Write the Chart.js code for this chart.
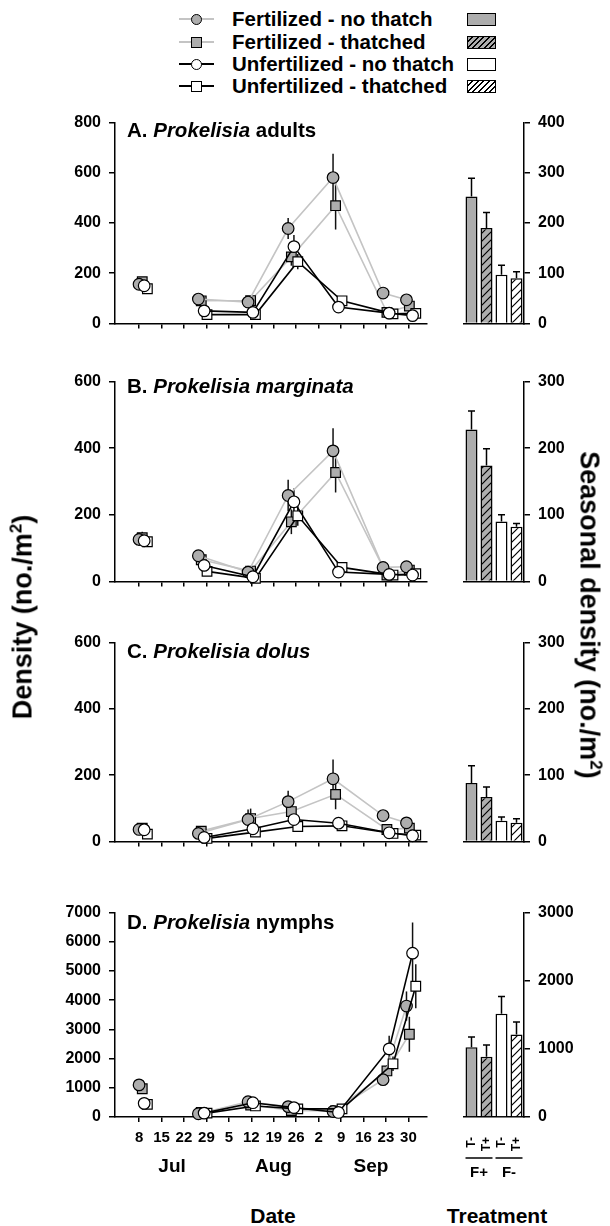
<!DOCTYPE html>
<html>
<head>
<meta charset="utf-8">
<script src="https://cdn.jsdelivr.net/npm/chart.js@4.4.0/dist/chart.umd.min.js"></script>
<style>
  body { margin: 0; width: 610px; height: 1226px; position: relative; overflow: hidden; background: #fff;
         font-family: 'Liberation Sans', Arial, sans-serif; font-weight: bold; color: #000; }
  .abs { position: absolute; }
  .txt { position: absolute; white-space: nowrap; line-height: 1; }
  .leg { font-size: 20.5px; }
  .ptitle { font-size: 20.5px; }
  .axt { font-size: 21px; }
  .side { font-size: 27px; }
</style>
</head>
<body>
<div id="root"></div>
<script>
// sampling dates: days after 30 Jun (8 Jul = 7), each treatment slightly offset as in the figure
const tickDays = [7, 14, 21, 28, 35, 42, 49, 56, 63, 70, 77, 84, 91];
const tickLabels = ['8', '15', '22', '29', '5', '12', '19', '26', '2', '9', '16', '23', '30'];
const monthNames = ['Jul', 'Aug', 'Sep'];
const monthDays = [17.3, 48.9, 79.3];

const dayFNT = [7, 25.5, 41, 53.5, 67.5, 83.1, 90.4];
const dayFT = [8, 26.4, 41.8, 54.5, 68.3, 84.3, 91.3];
const dayUNT = [8.6, 27.3, 42.5, 55.3, 69.2, 85, 92.3];
const dayUT = [9.6, 28.2, 43.3, 56.5, 70.3, 86.2, 93.3];

const seriesNames = ['Fertilized - no thatch', 'Fertilized - thatched', 'Unfertilized - no thatch', 'Unfertilized - thatched'];
const treatLabels = ['T-', 'T+', 'T-', 'T+'];
const fertGroups = ['F+', 'F-'];

// A. Prokelisia adults
const adultsFNT = [156, 97, 85, 378, 581, 121, 94];
const adultsFT = [166, 90, 91, 265, 469, 44, 69];
const adultsUNT = [150, 50, 44, 306, 65, 41, 31];
const adultsUT = [138, 35, 35, 246, 90, 38, 40];
const adultsErrFNT = [12, 8, 14, 42, 95, 10, 10];
const adultsErrFT = [10, 8, 12, 35, 95, 8, 10];
const adultsErrUNT = [10, 8, 8, 46, 8, 8, 8];
const adultsErrUT = [10, 5, 8, 30, 10, 5, 8];
const adultsSeason = [253, 190, 97, 90];
const adultsSeasonErr = [36, 31, 19, 13];

// B. Prokelisia marginata
const margFNT = [126, 77, 28, 258, 392, 42, 44];
const margFT = [131, 65, 31, 179, 327, 19, 34];
const margUNT = [122, 48, 14, 239, 28, 21, 19];
const margUT = [119, 30, 9, 197, 42, 19, 23];
const margErrFNT = [20, 6, 5, 47, 68, 5, 5];
const margErrFT = [18, 6, 5, 37, 60, 4, 5];
const margErrUNT = [18, 5, 4, 40, 4, 4, 4];
const margErrUT = [15, 5, 3, 30, 5, 3, 4];
const margSeason = [228, 174, 90, 82];
const margSeasonErr = [28, 25, 10, 5];

// C. Prokelisia dolus
const dolusFNT = [36, 24, 66, 120, 189, 78, 56];
const dolusFT = [40, 31, 69, 90, 142, 36, 40];
const dolusUNT = [35, 12, 38, 66, 55, 26, 17];
const dolusUT = [22, 9, 28, 45, 47, 24, 19];
const dolusErrFNT = [6, 5, 30, 33, 58, 10, 8];
const dolusErrFT = [6, 5, 30, 20, 45, 6, 6];
const dolusErrUNT = [6, 18, 8, 10, 8, 5, 4];
const dolusErrUT = [5, 4, 6, 8, 6, 4, 4];
const dolusSeason = [88, 67, 31, 28];
const dolusSeasonErr = [26, 15, 6, 6];

// D. Prokelisia nymphs
const nymphFNT = [1100, 111, 522, 356, 189, 1278, 3800];
const nymphFT = [967, 155, 411, 222, 211, 1578, 2833];
const nymphUNT = [467, 133, 489, 322, 155, 2333, 5611];
const nymphUT = [433, 133, 378, 278, 278, 1822, 4478];
const nymphErrFNT = [60, 30, 60, 50, 40, 150, 500];
const nymphErrFT = [60, 30, 50, 40, 40, 200, 600];
const nymphErrUNT = [50, 30, 60, 40, 30, 450, 1050];
const nymphErrUT = [40, 30, 50, 40, 40, 250, 750];
const nymphSeason = [1023, 883, 1516, 1211];
const nymphSeasonErr = [150, 173, 254, 183];

const FONT = "'Liberation Sans', Arial, sans-serif";
const GRAY = '#adadad';
const LINE_GRAY = '#c4c4c4';

function hatch(bg) {
  const c = document.createElement('canvas');
  c.width = c.height = 8;
  const g = c.getContext('2d');
  g.fillStyle = bg;
  g.fillRect(0, 0, 8, 8);
  g.strokeStyle = '#000';
  g.lineWidth = 1.2;
  g.beginPath();
  g.moveTo(-1, 9); g.lineTo(9, -1);
  g.moveTo(-1, 1); g.lineTo(1, -1);
  g.moveTo(7, 9); g.lineTo(9, 7);
  g.stroke();
  return g.createPattern(c, 'repeat');
}

const errorBars = {
  id: 'errorBars',
  beforeDatasetsDraw(chart) {
    if (chart.config.type !== 'line') return;
    const { ctx, scales: { y } } = chart;
    ctx.save();
    ctx.strokeStyle = '#111';
    ctx.lineWidth = 1.5;
    chart.data.datasets.forEach((ds, i) => {
      chart.getDatasetMeta(i).data.forEach((pt, j) => {
        const v = ds.data[j].y, e = ds.errors[j];
        ctx.beginPath();
        ctx.moveTo(pt.x, y.getPixelForValue(v + e));
        ctx.lineTo(pt.x, y.getPixelForValue(v - e));
        ctx.stroke();
      });
    });
    ctx.restore();
  },
  afterDatasetsDraw(chart) {
    if (chart.config.type !== 'bar') return;
    const { ctx, scales: { y } } = chart;
    ctx.save();
    ctx.strokeStyle = '#000';
    ctx.lineWidth = 1.5;
    chart.data.datasets.forEach((ds, i) => {
      chart.getDatasetMeta(i).data.forEach((bar, j) => {
        const top = y.getPixelForValue(ds.data[j] + ds.errors[j]);
        ctx.beginPath();
        ctx.moveTo(bar.x, bar.y);
        ctx.lineTo(bar.x, top);
        ctx.moveTo(bar.x - 3.5, top);
        ctx.lineTo(bar.x + 3.5, top);
        ctx.stroke();
      });
    });
    ctx.restore();
  }
};

const monthLabels = {
  id: 'monthLabels',
  afterDraw(chart) {
    const { ctx, chartArea, scales: { x } } = chart;
    ctx.save();
    ctx.font = 'bold 19px ' + FONT;
    ctx.fillStyle = '#000';
    ctx.textAlign = 'center';
    ctx.textBaseline = 'middle';
    monthNames.forEach((m, i) => ctx.fillText(m, x.getPixelForValue(monthDays[i]), chartArea.bottom + 50));
    ctx.restore();
  }
};

const fertLabels = {
  id: 'fertLabels',
  afterDraw(chart) {
    const { ctx, chartArea, scales: { x } } = chart;
    ctx.save();
    ctx.font = 'bold 15px ' + FONT;
    ctx.fillStyle = '#000';
    ctx.strokeStyle = '#000';
    ctx.lineWidth = 1.5;
    ctx.textAlign = 'center';
    ctx.textBaseline = 'middle';
    fertGroups.forEach((f, g) => {
      const x0 = x.getPixelForValue(g * 2) - 6, x1 = x.getPixelForValue(g * 2 + 1) + 6;
      ctx.beginPath();
      ctx.moveTo(x0, chartArea.bottom + 41);
      ctx.lineTo(x1, chartArea.bottom + 41);
      ctx.stroke();
      ctx.fillText(f, (x0 + x1) / 2, chartArea.bottom + 56);
    });
    ctx.restore();
  }
};

const tickFont = { family: FONT, size: 16, weight: 'bold' };
const plainNum = v => String(v);

function lineSet(label, days, vals, errs, gray, style, order) {
  const col = gray ? LINE_GRAY : '#000';
  return {
    label, order, errors: errs,
    data: days.map((d, k) => ({ x: d, y: vals[k] })),
    borderColor: col, borderWidth: 1.6,
    segment: { borderColor: c => (c.p0DataIndex === 0 ? 'rgba(0,0,0,0)' : col) },
    pointStyle: style, pointRadius: style === 'rect' ? 6.8 : 5.8,
    pointBackgroundColor: gray ? GRAY : '#fff',
    pointBorderColor: '#000', pointBorderWidth: 1.2,
    tension: 0, clip: false
  };
}

const panels = [
  { letter: 'A.', genus: 'Prokelisia', rest: ' adults', top: 117, bottom: 331, titleDy: 3, ymax: 800, ystep: 200, rmax: 400, rstep: 100,
    s: [adultsFNT, adultsFT, adultsUNT, adultsUT], e: [adultsErrFNT, adultsErrFT, adultsErrUNT, adultsErrUT],
    season: adultsSeason, seasonErr: adultsSeasonErr },
  { letter: 'B.', genus: 'Prokelisia marginata', rest: '', top: 376, bottom: 589, titleDy: 0, ymax: 600, ystep: 200, rmax: 300, rstep: 100,
    s: [margFNT, margFT, margUNT, margUT], e: [margErrFNT, margErrFT, margErrUNT, margErrUT],
    season: margSeason, seasonErr: margSeasonErr },
  { letter: 'C.', genus: 'Prokelisia dolus', rest: '', top: 637, bottom: 849, titleDy: 4, ymax: 600, ystep: 200, rmax: 300, rstep: 100,
    s: [dolusFNT, dolusFT, dolusUNT, dolusUT], e: [dolusErrFNT, dolusErrFT, dolusErrUNT, dolusErrUT],
    season: dolusSeason, seasonErr: dolusSeasonErr },
  { letter: 'D.', genus: 'Prokelisia', rest: ' nymphs', top: 907, bottom: 1117, titleDy: 5, ymax: 7000, ystep: 1000, rmax: 3000, rstep: 1000,
    s: [nymphFNT, nymphFT, nymphUNT, nymphUT], e: [nymphErrFNT, nymphErrFT, nymphErrUNT, nymphErrUT],
    season: nymphSeason, seasonErr: nymphSeasonErr, last: true }
];

const root = document.getElementById('root');
const PAD_TOP = 12;

function addCanvas(left, top, w, h) {
  const c = document.createElement('canvas');
  c.width = w; c.height = h;
  c.className = 'abs';
  c.style.left = left + 'px';
  c.style.top = top + 'px';
  root.appendChild(c);
  return c;
}

function addText(html, cls, css) {
  const d = document.createElement('div');
  d.className = 'txt ' + cls;
  d.innerHTML = html;
  Object.assign(d.style, css);
  root.appendChild(d);
  return d;
}

const patGray = hatch(GRAY), patWhite = hatch('#fff');

panels.forEach(p => {
  const bottomH = p.last ? 80 : 10;
  const h = PAD_TOP + (p.bottom - p.top) + bottomH;
  const top = p.top - PAD_TOP;

  new Chart(addCanvas(0, top, 440, h), {
    type: 'line',
    data: {
      datasets: [
        lineSet(seriesNames[2], dayUNT, p.s[2], p.e[2], false, 'circle', 0),
        lineSet(seriesNames[3], dayUT, p.s[3], p.e[3], false, 'rect', 1),
        lineSet(seriesNames[0], dayFNT, p.s[0], p.e[0], true, 'circle', 2),
        lineSet(seriesNames[1], dayFT, p.s[1], p.e[1], true, 'rect', 3)
      ]
    },
    options: {
      responsive: false, animation: false, events: [],
      layout: { padding: { top: PAD_TOP, right: 13, left: 0, bottom: 0 } },
      plugins: { legend: { display: false }, tooltip: { enabled: false } },
      scales: {
        x: {
          type: 'linear', min: -0.5, max: 96.8,
          afterBuildTicks: s => { s.ticks = tickDays.map(v => ({ value: v })); },
          afterFit: s => { s.height = bottomH; },
          ticks: { display: !!p.last, font: { family: FONT, size: 15, weight: 'bold' }, color: '#000', padding: 7,
                   maxRotation: 0, autoSkip: false, callback: (v, i) => tickLabels[i] },
          grid: { drawOnChartArea: false, tickLength: 5, color: '#000', lineWidth: 1.5 },
          border: { color: '#000', width: 1.5 }
        },
        y: {
          min: 0, max: p.ymax,
          afterFit: s => { s.width = 115; },
          ticks: { stepSize: p.ystep, font: tickFont, color: '#000', padding: 8, callback: plainNum },
          grid: { drawOnChartArea: false, tickLength: 6, color: '#000', lineWidth: 1.5 },
          border: { color: '#000', width: 1.5 }
        }
      }
    },
    plugins: p.last ? [errorBars, monthLabels] : [errorBars]
  });

  new Chart(addCanvas(450, top, 160, h), {
    type: 'bar',
    data: {
      labels: treatLabels,
      datasets: [{
        data: p.season, errors: p.seasonErr,
        backgroundColor: [GRAY, patGray, '#fff', patWhite],
        borderColor: '#000', borderWidth: 1.5,
        barPercentage: 0.8, categoryPercentage: 1
      }]
    },
    options: {
      responsive: false, animation: false, events: [],
      layout: { padding: { top: PAD_TOP, left: 14, right: 0, bottom: 0 } },
      plugins: { legend: { display: false }, tooltip: { enabled: false } },
      scales: {
        x: {
          afterFit: s => { s.height = bottomH; },
          ticks: { display: !!p.last, font: { family: FONT, size: 12, weight: 'bold' }, color: '#000',
                   minRotation: 90, maxRotation: 90, padding: 12, autoSkip: false },
          grid: { display: false },
          border: { color: '#000', width: 1.5 }
        },
        y: {
          position: 'right', min: 0, max: p.rmax,
          afterFit: s => { s.width = 86; },
          ticks: { stepSize: p.rstep, font: tickFont, color: '#000', padding: 8, callback: plainNum },
          grid: { drawOnChartArea: false, tickLength: 6, color: '#000', lineWidth: 1.5 },
          border: { color: '#000', width: 1.5 }
        }
      }
    },
    plugins: p.last ? [errorBars, fertLabels] : [errorBars]
  });

  addText(p.letter + ' <i>' + p.genus + '</i>' + p.rest, 'ptitle', { left: '127px', top: (p.top + p.titleDy) + 'px' });
});

// legend
const legY = [19, 42, 64, 86];
seriesNames.forEach((name, i) => {
  const y = legY[i];
  const gray = i < 2;
  const line = document.createElement('div');
  line.className = 'abs';
  Object.assign(line.style, { left: '179px', top: (y - 1) + 'px', width: '35px', height: '1.6px', background: gray ? LINE_GRAY : '#000' });
  root.appendChild(line);
  const mk = document.createElement('div');
  mk.className = 'abs';
  const sz = 9;
  Object.assign(mk.style, { left: (196 - sz / 2 - 1) + 'px', top: (y - sz / 2 - 1) + 'px', width: sz + 'px', height: sz + 'px',
    border: '1.2px solid #000', background: gray ? GRAY : '#fff', borderRadius: i % 2 === 0 ? '50%' : '0' });
  root.appendChild(mk);
  addText(name, 'leg', { left: '232px', top: (y - 10) + 'px' });
  const sw = document.createElement('div');
  sw.className = 'abs';
  const base = gray ? GRAY : '#fff';
  Object.assign(sw.style, { left: '467px', top: (y - 6) + 'px', width: '27px', height: '11px', border: '1.3px solid #000',
    background: i % 2 === 0 ? base : 'repeating-linear-gradient(135deg, ' + base + ' 0 2.5px, #000 2.5px 4px)' });
  root.appendChild(sw);
});

// axis titles
addText('Density (no./m<sup style="font-size:17px">2</sup>)', 'side',
  { left: '22px', top: '617px', transform: 'translate(-50%,-50%) rotate(-90deg)' });
addText('Seasonal density (no./m<sup style="font-size:17px">2</sup>)', 'side',
  { left: '590px', top: '615px', transform: 'translate(-50%,-50%) rotate(90deg)' });
addText('Date', 'axt', { left: '273px', top: '1215px', transform: 'translate(-50%,-50%)' });
addText('Treatment', 'axt', { left: '497px', top: '1215px', transform: 'translate(-50%,-50%)' });
</script>
</body>
</html>
